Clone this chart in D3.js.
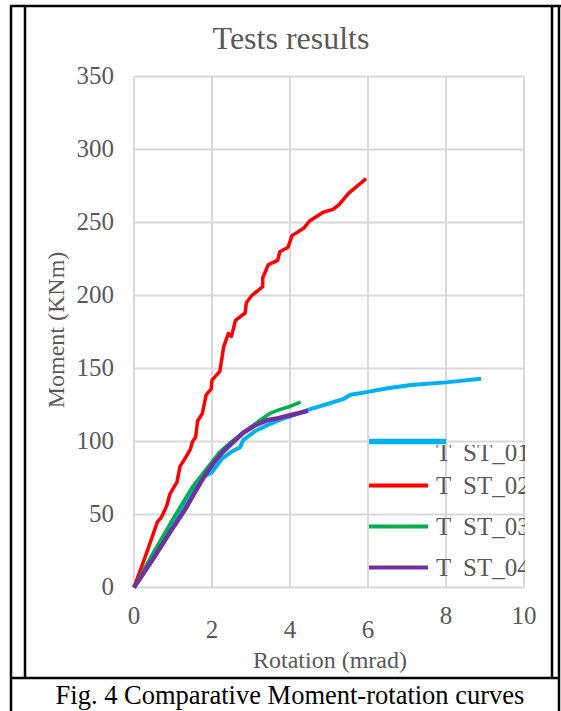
<!DOCTYPE html>
<html>
<head>
<meta charset="utf-8">
<script src="https://cdn.jsdelivr.net/npm/d3@7"></script>
<style>
  body { margin: 0; background: #fff; }
  svg { display: block; }
</style>
</head>
<body>
<script>
//chart data
var seriesNames = ["TEST_01", "TEST_02", "TEST_03", "TEST_04"];
var seriesColors = ["#00b0f0", "#ff0000", "#00b050", "#7030a0"];
var xTicks = [0, 2, 4, 6, 8, 10];
var yTicks = [0, 50, 100, 150, 200, 250, 300, 350];

//[rotation (mrad), moment (KNm)]
var test01 = [[0,0],[0.5,23],[1.0,45],[1.5,67],[1.8,76],[2.0,79],[2.25,88],[2.5,93],[2.72,96],[2.8,101],[3.1,107],[3.4,111],[3.75,115],[4.1,118],[4.5,122],[5.0,126],[5.36,129],[5.55,132],[6.0,134],[6.5,136.5],[7.1,138.7],[8.0,140.5],[8.9,143]];
var test02 = [[0,0],[0.3,22],[0.6,45],[0.7,48],[0.84,56],[0.92,64],[1.05,70],[1.1,72],[1.18,83],[1.3,88],[1.45,95],[1.5,100],[1.58,103],[1.63,114],[1.75,119],[1.85,132],[1.98,136],[2.0,142],[2.2,148],[2.3,165],[2.42,174],[2.5,172],[2.6,183],[2.85,188],[2.88,195],[3.02,200],[3.3,206],[3.3,212],[3.44,221],[3.68,224],[3.74,230],[3.95,233],[4.05,241],[4.35,246],[4.5,251],[4.85,257],[5.1,259],[5.25,262],[5.5,270],[5.95,280]];
var test03 = [[0,0],[0.5,24],[1.0,47],[1.5,69],[1.85,81],[2.2,93],[2.55,101],[2.9,108],[3.2,114],[3.5,119.5],[3.75,122],[4.0,124],[4.27,127]];
var test04 = [[0,0],[0.5,20],[1.0,41],[1.3,53],[1.6,67],[1.8,76],[2.03,85],[2.25,92],[2.46,97.5],[2.8,106],[3.1,111],[3.4,114.5],[3.7,116],[4.0,118],[4.46,121]];

(function () {
    var width = 561, height = 711;
    var serif = "'Liberation Serif', 'Times New Roman', serif";
    var allSeries = [test01, test02, test03, test04];
    var lineWidths = [4, 3.5, 3.5, 4.5];

    var svg = d3.select("body").append("svg")
        .attr("width", width)
        .attr("height", height)
        .attr("font-family", serif);

    //page frame (table borders)
    var frame = svg.append("g").attr("stroke", "#000").attr("stroke-width", 2.5);
    frame.append("line").attr("x1", 10).attr("x2", 561).attr("y1", 6).attr("y2", 6);
    frame.append("line").attr("x1", 11).attr("x2", 11).attr("y1", 6).attr("y2", 711);
    frame.append("line").attr("x1", 25).attr("x2", 25).attr("y1", 6).attr("y2", 678);
    frame.append("line").attr("x1", 552).attr("x2", 552).attr("y1", 6).attr("y2", 678);
    frame.append("line").attr("x1", 559).attr("x2", 559).attr("y1", 6).attr("y2", 711);
    frame.append("line").attr("x1", 11).attr("x2", 559).attr("y1", 678).attr("y2", 678);

    //scales
    var x = d3.scaleLinear().domain([0, 10]).range([134, 524]);
    var y = d3.scaleLinear().domain([0, 350]).range([587.5, 76.5]);

    //gridlines
    svg.append("g").selectAll("line.v").data(xTicks).enter().append("line")
        .attr("x1", function (d) { return x(d); }).attr("x2", function (d) { return x(d); })
        .attr("y1", y(0)).attr("y2", y(350))
        .attr("stroke", "#d9d9d9").attr("stroke-width", 2);
    svg.append("g").selectAll("line.h").data(yTicks).enter().append("line")
        .attr("y1", function (d) { return y(d); }).attr("y2", function (d) { return y(d); })
        .attr("x1", x(0)).attr("x2", x(10))
        .attr("stroke", "#d9d9d9").attr("stroke-width", 2);

    //tick labels
    svg.append("g").selectAll("text").data(yTicks).enter().append("text")
        .attr("x", 114).attr("y", function (d) { return y(d); })
        .attr("dy", "0.3em").attr("text-anchor", "end")
        .attr("font-size", 25).attr("fill", "#595959")
        .text(function (d) { return d; });
    //x labels are staggered in the original
    svg.append("g").selectAll("text").data(xTicks).enter().append("text")
        .attr("x", function (d) { return x(d); })
        .attr("y", function (d, i) { return (i >= 1 && i <= 3) ? 638 : 624; })
        .attr("text-anchor", "middle")
        .attr("font-size", 25).attr("fill", "#595959")
        .text(function (d) { return d; });

    //titles
    svg.append("text").attr("x", 291).attr("y", 49).attr("text-anchor", "middle")
        .attr("font-size", 32).attr("fill", "#595959").text("Tests results");
    svg.append("text").attr("transform", "translate(64,330) rotate(-90)")
        .attr("text-anchor", "middle").attr("font-size", 24).attr("fill", "#595959")
        .text("Moment (KNm)");
    svg.append("text").attr("x", 330).attr("y", 668).attr("text-anchor", "middle")
        .attr("font-size", 24).attr("fill", "#595959").text("Rotation (mrad)");
    svg.append("text").attr("x", 290).attr("y", 704).attr("text-anchor", "middle")
        .attr("font-size", 26.5).attr("fill", "#000")
        .text("Fig. 4 Comparative Moment-rotation curves");

    //curves
    var line = d3.line()
        .x(function (d) { return x(d[0]); })
        .y(function (d) { return y(d[1]); });
    allSeries.forEach(function (s, i) {
        svg.append("path")
            .datum(s)
            .attr("d", line)
            .attr("fill", "none")
            .attr("stroke", seriesColors[i])
            .attr("stroke-width", lineWidths[i])
            .attr("stroke-linejoin", "round");
    });

    //legend, overlapping the plot, text clipped at plot edge
    svg.append("clipPath").attr("id", "legClip")
        .append("rect").attr("x", 360).attr("y", 445).attr("width", 165).attr("height", 150);
    var legY = [441.5, 485.5, 526.5, 567.5];
    var legTextY = [461, 494, 535, 576];
    var leg = svg.append("g").attr("clip-path", "url(#legClip)");
    seriesNames.forEach(function (name, i) {
        leg.append("text").attr("x", 436).attr("y", legTextY[i])
            .attr("font-size", 25).attr("fill", "#595959").text(name.charAt(0));
        leg.append("text").attr("x", 463).attr("y", legTextY[i])
            .attr("font-size", 25).attr("fill", "#595959").text(name.slice(2));
    });
    seriesNames.forEach(function (name, i) {
        svg.append("line")
            .attr("x1", 369).attr("x2", i === 0 ? 446 : 428)
            .attr("y1", legY[i]).attr("y2", legY[i])
            .attr("stroke", seriesColors[i])
            .attr("stroke-width", i === 0 ? 5.5 : 3.8);
    });
})();
</script>
</body>
</html>
